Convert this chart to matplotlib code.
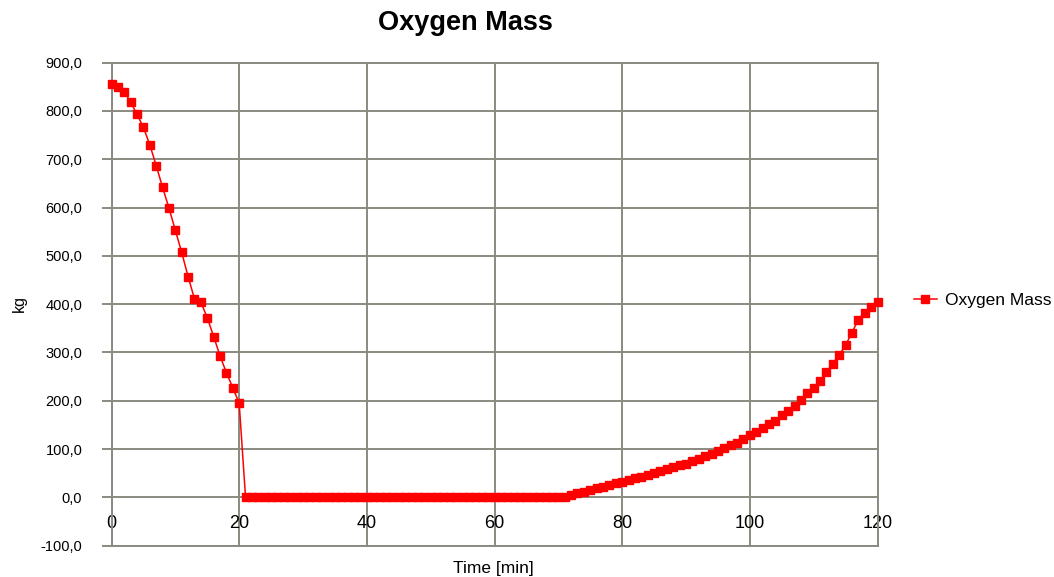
import matplotlib
matplotlib.use('Agg')
import matplotlib.pyplot as plt
import numpy as np

plt.rcParams['font.family'] = ['Liberation Sans', 'DejaVu Sans']

# time in minutes, one reading per minute
time_min = list(range(0, 121))

oxygen_kg = [
    855, 850, 840, 818, 793, 766, 730, 687, 642, 599,
    553, 507, 457, 411, 404, 372, 333, 293, 258, 227,
    195, 0, 0, 0, 0, 0, 0, 0, 0, 0,
    0, 0, 0, 0, 0, 0, 0, 0, 0, 0,
    0, 0, 0, 0, 0, 0, 0, 0, 0, 0,
    0, 0, 0, 0, 0, 0, 0, 0, 0, 0,
    0, 0, 0, 0, 0, 0, 0, 0, 0, 0,
    0, 1, 4, 8, 12, 15, 19, 22, 25, 29,
    32, 36, 39, 42, 46, 50, 54, 58, 62, 66,
    70, 75, 80, 85, 90, 96, 103, 108, 113, 121,
    128, 135, 143, 152, 159, 170, 179, 189, 201, 215,
    226, 241, 259, 277, 295, 315, 341, 368, 382, 395,
    404,
]

x_ticks = [0, 20, 40, 60, 80, 100, 120]
y_ticks = [-100, 0, 100, 200, 300, 400, 500, 600, 700, 800, 900]

grid_col = '#8a8a80'

fig = plt.figure(figsize=(10.54, 5.77), dpi=100)
ax = fig.add_axes([111.5/1054, 1-545.6/577, (877.5-111.5)/1054, (545.6-62.7)/577])

ax.plot(time_min, oxygen_kg, color='#ff0000', lw=1.1, marker='s', ms=5.5,
        mec='#ff0000', mfc='#ff0000', label='Oxygen Mass', clip_on=False, zorder=3)

ax.set_xlim(0, 120)
ax.set_ylim(-100, 900)
ax.set_xticks(x_ticks)
ax.set_yticks(y_ticks)
ax.set_yticklabels([f'{v:.1f}'.replace('.', ',') for v in y_ticks])
ax.grid(True, color=grid_col, lw=1.4)
ax.set_axisbelow(True)
for s in ax.spines.values():
    s.set_color(grid_col)
    s.set_linewidth(1.4)

ax.tick_params(axis='y', length=7, width=1.4, color=grid_col, pad=14, labelsize=10.5)
ax.tick_params(axis='x', length=0, pad=-22, labelsize=13)

fig.text(465/1054, 1-23/577, 'Oxygen Mass', ha='center', va='center',
         fontsize=19.5, fontweight='bold')
fig.text(493/1054, 1-568/577, 'Time [min]', ha='center', va='center', fontsize=12.5)
fig.text(19/1054, 1-304/577, 'kg', ha='center', va='center', rotation=90, fontsize=11.5)

ax.legend(loc='center left', bbox_to_anchor=(907/1054, 1-300/577),
          bbox_transform=fig.transFigure, frameon=False, fontsize=12.5,
          handlelength=1.3, handletextpad=0.5, borderaxespad=0)

fig.savefig('out.png', dpi=100)
